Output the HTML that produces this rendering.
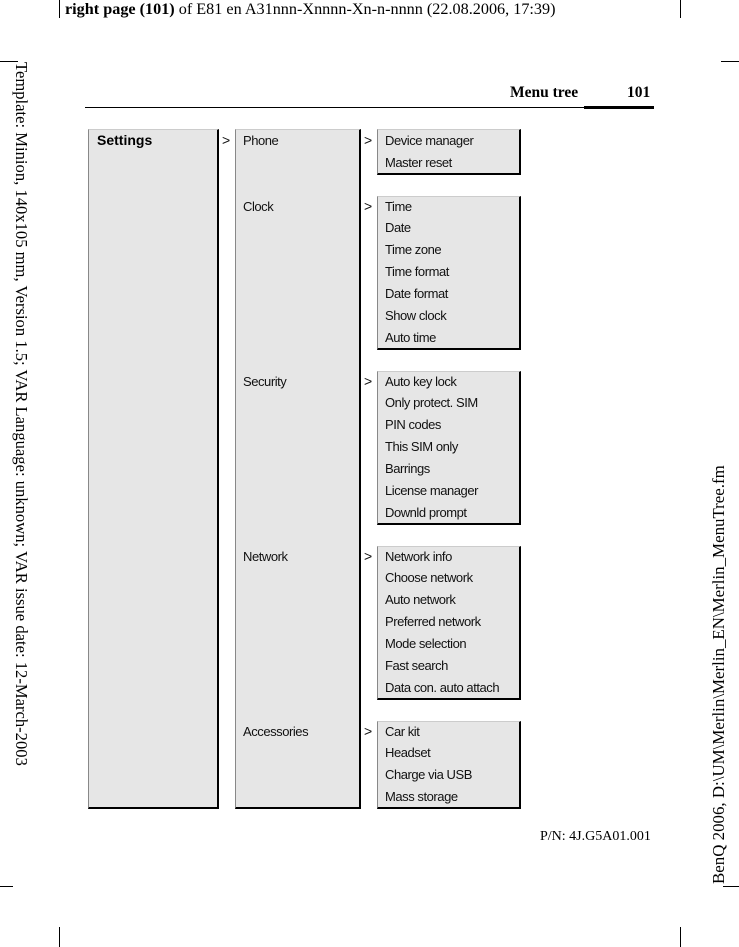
<!DOCTYPE html>
<html><head><meta charset="utf-8"><style>
body{margin:0;width:739px;height:947px;background:#fff;position:relative;overflow:hidden}
.a{position:absolute}
.s{font-family:"Liberation Serif",serif;color:#000}
.box{position:absolute;background:#e6e6e6;border-left:1px solid #888;border-top:1px solid #ccc;border-right:2px solid #000;border-bottom:2px solid #000;box-sizing:border-box}
.t{position:absolute;font-family:"Liberation Sans",sans-serif;font-size:13px;letter-spacing:-0.45px;color:#111;white-space:nowrap;line-height:14px;margin-top:1px}
.g{position:absolute;font-family:"Liberation Sans",sans-serif;font-size:14px;color:#111;margin-top:1px}
.l{position:absolute;background:#000}
</style></head><body>
<div class="l" style="left:59px;top:0;width:1px;height:18px"></div>
<div class="l" style="left:680px;top:0;width:1px;height:18px"></div>
<div class="l" style="left:0;top:61px;width:18px;height:1px"></div>
<div class="l" style="left:721px;top:61px;width:18px;height:1px"></div>
<div class="l" style="left:0;top:886px;width:13px;height:1px"></div>
<div class="l" style="left:723px;top:886px;width:16px;height:1px"></div>
<div class="l" style="left:59px;top:927px;width:1px;height:20px"></div>
<div class="l" style="left:680px;top:927px;width:1px;height:20px"></div>
<div class="a s" style="left:65px;top:0px;font-size:16.2px;white-space:nowrap"><b>right page (101)</b> of E81 en A31nnn-Xnnnn-Xn-n-nnnn (22.08.2006, 17:39)</div>
<div class="a s" style="left:510px;top:84px;font-size:15.5px;font-weight:bold">Menu tree</div>
<div class="a s" style="left:627px;top:84px;font-size:15.5px;font-weight:bold">101</div>
<div class="l" style="left:85px;top:107px;width:569px;height:1px"></div>
<div class="l" style="left:584px;top:106px;width:70px;height:3px"></div>
<div class="a s" style="left:31px;top:62px;font-size:16.6px;white-space:nowrap;transform-origin:0 0;transform:rotate(90deg)">Template: Minion, 140x105 mm, Version 1.5; VAR Language: unknown; VAR issue date: 12-March-2003</div>
<div class="a s" style="left:709px;top:884px;font-size:16.9px;white-space:nowrap;transform-origin:0 0;transform:rotate(-90deg)">BenQ 2006, D:\UM\Merlin\Merlin_EN\Merlin_MenuTree.fm</div>
<div class="a s" style="left:540px;top:829px;font-size:14px">P/N: 4J.G5A01.001</div>

<div class="box" style="left:88px;top:129px;width:131px;height:680px"></div>
<div class="a" style="left:97px;top:132px;font-family:'Liberation Sans',sans-serif;font-size:14px;font-weight:bold">Settings</div>
<div class="g" style="left:222px;top:131px">&gt;</div>
<div class="box" style="left:235px;top:129px;width:126px;height:680px"></div>
<div class="t" style="left:243px;top:133px">Phone</div>
<div class="t" style="left:243px;top:199px">Clock</div>
<div class="t" style="left:243px;top:374px">Security</div>
<div class="t" style="left:243px;top:549px">Network</div>
<div class="t" style="left:243px;top:724px">Accessories</div>

<div class="g" style="left:364px;top:131px">&gt;</div>
<div class="box" style="left:377px;top:129px;width:144px;height:46px"></div>
<div class="t" style="left:385px;top:133px">Device manager</div>
<div class="t" style="left:385px;top:155px">Master reset</div>

<div class="g" style="left:364px;top:197px">&gt;</div>
<div class="box" style="left:377px;top:196px;width:144px;height:154px"></div>
<div class="t" style="left:385px;top:199px">Time</div>
<div class="t" style="left:385px;top:220px">Date</div>
<div class="t" style="left:385px;top:242px">Time zone</div>
<div class="t" style="left:385px;top:264px">Time format</div>
<div class="t" style="left:385px;top:286px">Date format</div>
<div class="t" style="left:385px;top:308px">Show clock</div>
<div class="t" style="left:385px;top:330px">Auto time</div>

<div class="g" style="left:364px;top:372px">&gt;</div>
<div class="box" style="left:377px;top:371px;width:144px;height:154px"></div>
<div class="t" style="left:385px;top:374px">Auto key lock</div>
<div class="t" style="left:385px;top:395px">Only protect. SIM</div>
<div class="t" style="left:385px;top:417px">PIN codes</div>
<div class="t" style="left:385px;top:439px">This SIM only</div>
<div class="t" style="left:385px;top:461px">Barrings</div>
<div class="t" style="left:385px;top:483px">License manager</div>
<div class="t" style="left:385px;top:505px">Downld prompt</div>

<div class="g" style="left:364px;top:547px">&gt;</div>
<div class="box" style="left:377px;top:546px;width:144px;height:154px"></div>
<div class="t" style="left:385px;top:549px">Network info</div>
<div class="t" style="left:385px;top:570px">Choose network</div>
<div class="t" style="left:385px;top:592px">Auto network</div>
<div class="t" style="left:385px;top:614px">Preferred network</div>
<div class="t" style="left:385px;top:636px">Mode selection</div>
<div class="t" style="left:385px;top:658px">Fast search</div>
<div class="t" style="left:385px;top:680px">Data con. auto attach</div>

<div class="g" style="left:364px;top:722px">&gt;</div>
<div class="box" style="left:377px;top:721px;width:144px;height:88px"></div>
<div class="t" style="left:385px;top:724px">Car kit</div>
<div class="t" style="left:385px;top:745px">Headset</div>
<div class="t" style="left:385px;top:767px">Charge via USB</div>
<div class="t" style="left:385px;top:789px">Mass storage</div>
</body></html>
